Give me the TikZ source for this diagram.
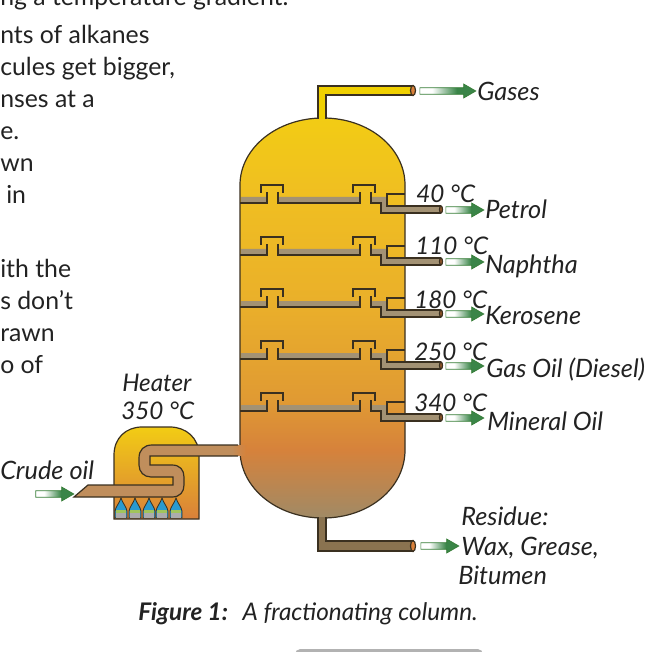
\documentclass[tikz,border=0pt]{standalone}
\usepackage{fontspec}
\setmainfont{Lato}
\usetikzlibrary{shapes.arrows}
\definecolor{lineC}{HTML}{3A3020}
\definecolor{trayC}{HTML}{A39274}
\definecolor{feedC}{HTML}{C08E5C}
\definecolor{gasC}{HTML}{F0D000}
\definecolor{residC}{HTML}{8A7350}
\definecolor{capC}{HTML}{D9803A}
\definecolor{flameC}{HTML}{2A9AD0}
\definecolor{textC}{HTML}{222222}
\definecolor{colA}{HTML}{A08A66}
\definecolor{colB}{HTML}{D6823B}
\definecolor{colC}{HTML}{E09A33}
\definecolor{colD}{HTML}{EAB02A}
\definecolor{colE}{HTML}{F0C020}
\definecolor{colF}{HTML}{F2CC14}
\definecolor{flowC}{HTML}{3A8548}
\pgfdeclareverticalshading{columnfade}{100bp}{
  color(0bp)=(colA); color(25bp)=(colA);
  color(33.5bp)=(colB); color(39.75bp)=(colC);
  color(52.25bp)=(colD); color(66.6bp)=(colE);
  color(75bp)=(colF); color(100bp)=(colF)}
\pgfdeclarehorizontalshading{flowfade}{100bp}{
  color(0bp)=(white); color(36bp)=(white);
  color(58bp)=(flowC); color(100bp)=(flowC)}
\begin{document}
\begin{tikzpicture}[x=.75pt,y=-.75pt]
\tikzset{
  txt/.style      = {anchor=base west, inner sep=0pt, text=textC,
                     font=\fontsize{18.6}{22}\selectfont},
  lab/.style      = {txt, font=\fontsize{19}{22}\selectfont\itshape},
  tmp/.style      = {txt, font=\fontsize{18.2}{22}\selectfont\itshape},
  vessel/.style   = {draw=lineC, line width=.9pt},
  flowarrow/.style = {single arrow, shading=flowfade, draw=gray!60!green!70!black,
                     line width=.5pt, inner xsep=0pt, inner ysep=2.2pt,
                     minimum height=28.5pt, minimum width=10pt,
                     single arrow head extend=2.8pt, single arrow tip angle=60}
}
\path[use as bounding box, clip] (0,0) rectangle (660,652);
% page text
\node[txt] (l0)  at (0,6)   {ng a temperature gradient.};
\node[txt] (l1)  at (0,44)  {nts of alkanes};
\node[txt] (l2)  at (0,76)  {cules get bigger,};
\node[txt] (l3)  at (0,108) {nses at a};
\node[txt] (l4)  at (0,140) {e.};
\node[txt] (l5)  at (0,172) {wn};
\node[txt] (l6)  at (6,204) {in};
\node[txt] (l7)  at (0,277) {ith the};
\node[txt] (l8)  at (0,309) {s don’t};
\node[txt] (l9)  at (0,341) {rawn};
\node[txt] (l10) at (0,373) {o of};
\fill[gray!60, rounded corners=4pt] (295,660) -- (295,649) -- (483,649) -- (483,660) -- cycle;
% column
\path[shade, shading=columnfade]
  (240,185) .. controls (240,148) and (277,118) .. (323,118)
  .. controls (369,118) and (405,148) .. (405,185) -- (405,450)
  .. controls (405,488) and (369,518) .. (323,518)
  .. controls (277,518) and (240,488) .. (240,450) -- cycle;
\draw[vessel]
  (240,185) .. controls (240,148) and (277,118) .. (323,118)
  .. controls (369,118) and (405,148) .. (405,185) -- (405,450)
  .. controls (405,488) and (369,518) .. (323,518)
  .. controls (277,518) and (240,488) .. (240,450) -- cycle;
% pipes at top and bottom
\draw[vessel, fill=gasC] (318,119) -- (318,86) -- (413,86) -- (413,95) -- (326,95) -- (326,119);
\draw[vessel, fill=capC] (413,90.5) ellipse [x radius=2.5, y radius=5];
\draw[vessel, fill=residC] (318,517) -- (318,551) -- (413,551) -- (413,541) -- (326,541) -- (326,517);
\draw[vessel, fill=capC] (413,546) ellipse [x radius=2.5, y radius=5.5];
% trays
\foreach \y in {197,249,301,353,405} {
  \begin{scope}[shift={(0,\y)}]
    \fill[trayC] (241,0) rectangle (267,6) (278,0) rectangle (360,6);
    \fill[trayC] (371,0) -- (387,0) -- (387,9) -- (441,9) -- (441,16) -- (381,16) -- (381,6) -- (371,6) -- cycle;
    \draw[vessel] (240,6) -- (267,6) -- (267,-5);
    \draw[vessel] (278,-5) -- (278,6) -- (360,6) -- (360,-5);
    \draw[vessel] (371,-5) -- (371,6) -- (381,6) -- (381,16) -- (441,16);
    \draw[vessel] (441,9) -- (387,9) -- (387,-3) -- (405,-3);
    \draw[vessel] (261,-4) -- (261,-12) -- (283,-12) -- (283,-4);
    \draw[vessel] (353,-4) -- (353,-12) -- (375,-12) -- (375,-4);
    \draw[vessel, fill=capC!70!black] (441,12.5) ellipse [x radius=1.5, y radius=3.5];
  \end{scope}
}
% heater
\draw[vessel, top color=colF, bottom color=capC]
  (114,519) -- (114,455) .. controls (114,438) and (126,427) .. (142,427) -- (170,427)
  .. controls (186,427) and (199,438) .. (199,455) -- (199,519) -- cycle;
\foreach \x in {121,135,149,162,176} {
  \draw[draw=lineC, line width=.6pt, fill=flameC]
    (\x-6,518) -- (\x-6,511) .. controls (\x-5,506) and (\x-2,504) .. (\x,498)
    .. controls (\x+2,504) and (\x+5,506) .. (\x+6,511) -- (\x+6,518) -- cycle;
  \fill[flameC!40!yellow!80!gray] (\x-5.4,510) rectangle (\x+5.4,513);
  \fill[gray!65] (\x-5.4,513) rectangle (\x+5.4,517.5);
}
% feed pipe
\fill[feedC] (74,497) -- (172,497) .. controls (180,497) and (184,492) .. (184,485) -- (184,477)
  .. controls (184,470) and (180,465) .. (172,465) -- (150,465) -- (150,456) -- (232,456)
  -- (232,445) -- (152,445) .. controls (144,445) and (139,450) .. (139,458) -- (139,465)
  .. controls (139,472) and (144,477) .. (151,477) -- (173,477) -- (173,485) -- (88,485) -- cycle;
\shade[left color=feedC, right color=colB] (232,445.4) rectangle (246,455.6);
\draw[vessel] (238,456) -- (150,456) -- (150,465) -- (172,465)
  .. controls (180,465) and (184,470) .. (184,477) -- (184,485)
  .. controls (184,492) and (180,497) .. (172,497) -- (74,497) -- (88,485) -- (173,485) -- (173,477)
  -- (151,477) .. controls (144,477) and (139,472) .. (139,465) -- (139,458)
  .. controls (139,450) and (144,445) .. (152,445) -- (238,445);
% labels
\node[tmp] (heater)  at (122,391) {Heater};
\node[tmp] (heatT)   at (121,419) {350 °C};
\node[lab] (crude)   at (0,479)   {Crude oil};
\node[lab] (gases)   at (477,101) {Gases};
\foreach \nm/\tx/\ty/\tm/\px/\py/\pr in {
    a/416/203/40 °C/485/219/Petrol,
    b/415/255/110 °C/485/273/Naphtha,
    c/414/308/180 °C/485/325/Kerosene,
    d/414/360/250 °C/486/377/Gas Oil (Diesel),
    e/414/411/340 °C/487/430/Mineral Oil} {
  \node[tmp] (temp\nm) at (\tx,\ty) {\tm};
  \node[lab] (prod\nm) at (\px,\py) {\pr};
}
\node[lab] (resA) at (461,525) {Residue:};
\node[lab] (resB) at (461,555) {Wax, Grease,};
\node[lab] (resC) at (458,584) {Bitumen};
\node[tmp] (capt) at (138,620) {\textbf{Figure 1:}\hspace{.6em}A fractionating column.};
% flow arrows
\node[flowarrow, minimum height=42pt] (outgas) at (445,91) {};
\foreach \nm/\y in {a/210,b/262,c/314,d/366,e/418}
  \node[flowarrow] (out\nm) at (462,\y) {};
\node[flowarrow] (outres) at (437,546) {};
\node[flowarrow] (incrude) at (52,494) {};
\end{tikzpicture}
\end{document}
